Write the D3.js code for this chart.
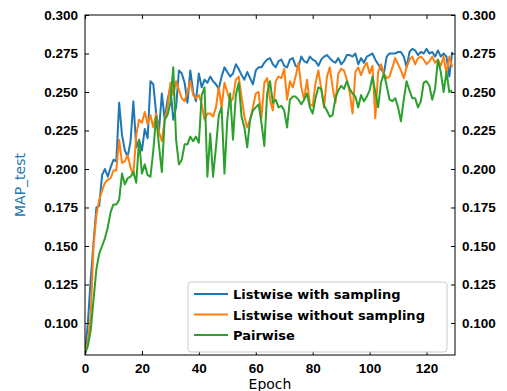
<!DOCTYPE html>
<html>
<head>
<meta charset="utf-8">
<script src="https://cdn.jsdelivr.net/npm/d3@7"></script>
<style>
  body { margin: 0; background: #fff; }
  svg { font-family: "DejaVu Sans", sans-serif; }
  .tick text { font-weight: bold; font-size: 13.5px; fill: #000; }
</style>
</head>
<body>
<div id="chart"></div>
<script>
// series values, one per epoch (0..129)
var listwiseSampling = [
  0.080, 0.100, 0.128, 0.152, 0.175, 0.176, 0.196, 0.200, 0.195, 0.201,
  0.206, 0.205, 0.243, 0.222, 0.212, 0.208, 0.218, 0.244, 0.214, 0.219,
  0.212, 0.226, 0.220, 0.257, 0.255, 0.236, 0.225, 0.249, 0.232, 0.245,
  0.253, 0.232, 0.240, 0.264, 0.262, 0.256, 0.243, 0.264, 0.250, 0.244,
  0.262, 0.253, 0.258, 0.256, 0.260, 0.257, 0.255, 0.252, 0.260, 0.266,
  0.263, 0.260, 0.262, 0.268, 0.265, 0.261, 0.258, 0.263, 0.259, 0.255,
  0.264, 0.266, 0.266, 0.269, 0.271, 0.272, 0.268, 0.266, 0.270, 0.271,
  0.267, 0.266, 0.271, 0.272, 0.267, 0.266, 0.273, 0.270, 0.269, 0.273,
  0.271, 0.270, 0.267, 0.271, 0.273, 0.274, 0.272, 0.270, 0.269, 0.272,
  0.268, 0.270, 0.274, 0.274, 0.273, 0.275, 0.268, 0.272, 0.269, 0.273,
  0.274, 0.275, 0.271, 0.268, 0.265, 0.262, 0.273, 0.275, 0.275, 0.275,
  0.276, 0.276, 0.273, 0.266, 0.276, 0.278, 0.277, 0.274, 0.276, 0.275,
  0.278, 0.275, 0.276, 0.273, 0.277, 0.273, 0.275, 0.273, 0.260, 0.276
];
var listwiseNoSampling = [
  0.080, 0.088, 0.105, 0.150, 0.170, 0.180, 0.186, 0.191, 0.193, 0.194,
  0.199, 0.199, 0.219, 0.204, 0.205, 0.209, 0.201, 0.196, 0.222, 0.232,
  0.230, 0.237, 0.229, 0.235, 0.227, 0.236, 0.224, 0.218, 0.232, 0.240,
  0.256, 0.248, 0.257, 0.251, 0.246, 0.244, 0.250, 0.257, 0.248, 0.246,
  0.248, 0.242, 0.232, 0.236, 0.236, 0.234, 0.240, 0.253, 0.240, 0.256,
  0.250, 0.243, 0.246, 0.258, 0.260, 0.247, 0.234, 0.227, 0.232, 0.240,
  0.249, 0.250, 0.233, 0.256, 0.259, 0.245, 0.238, 0.257, 0.260, 0.259,
  0.265, 0.245, 0.257, 0.253, 0.260, 0.269, 0.253, 0.245, 0.258, 0.242,
  0.241, 0.256, 0.264, 0.252, 0.240, 0.260, 0.266, 0.253, 0.243, 0.262,
  0.265, 0.264, 0.258, 0.250, 0.236, 0.263, 0.266, 0.261, 0.266, 0.269,
  0.262, 0.267, 0.233, 0.263, 0.268, 0.262, 0.259, 0.260, 0.266, 0.272,
  0.268, 0.264, 0.259, 0.266, 0.271, 0.273, 0.268, 0.272, 0.273, 0.271,
  0.268, 0.270, 0.273, 0.269, 0.271, 0.267, 0.273, 0.262, 0.273, 0.266
];
var pairwise = [
  0.080, 0.085, 0.095, 0.115, 0.135, 0.145, 0.150, 0.155, 0.162, 0.172,
  0.177, 0.177, 0.180, 0.197, 0.190, 0.194, 0.195, 0.198, 0.191, 0.219,
  0.197, 0.203, 0.196, 0.195, 0.212, 0.234, 0.215, 0.198, 0.232, 0.235,
  0.243, 0.266, 0.219, 0.203, 0.206, 0.216, 0.216, 0.221, 0.218, 0.221,
  0.217, 0.248, 0.253, 0.195, 0.223, 0.195, 0.214, 0.235, 0.240, 0.197,
  0.232, 0.249, 0.219, 0.248, 0.256, 0.234, 0.227, 0.214, 0.232, 0.238,
  0.240, 0.242, 0.230, 0.215, 0.249, 0.257, 0.243, 0.245, 0.240, 0.241,
  0.238, 0.227, 0.245, 0.247, 0.247, 0.245, 0.242, 0.245, 0.249, 0.240,
  0.236, 0.246, 0.253, 0.252, 0.241, 0.238, 0.234, 0.235, 0.246, 0.251,
  0.254, 0.252, 0.257, 0.252, 0.249, 0.247, 0.240, 0.248, 0.244, 0.247,
  0.251, 0.260, 0.250, 0.240, 0.256, 0.262, 0.254, 0.245, 0.244, 0.246,
  0.240, 0.231, 0.245, 0.257, 0.251, 0.246, 0.246, 0.240, 0.244, 0.256,
  0.257, 0.254, 0.245, 0.252, 0.271, 0.263, 0.250, 0.263, 0.250, 0.251
];

var seriesNames = ["Listwise with sampling", "Listwise without sampling", "Pairwise"];
var seriesColors = ["#1f77b4", "#ff7f0e", "#2ca02c"];
var xTicks = [0, 20, 40, 60, 80, 100, 120];
var yTicks = [0.100, 0.125, 0.150, 0.175, 0.200, 0.225, 0.250, 0.275, 0.300];

var W = 507, H = 391;
var margin = {top: 15, right: 52, bottom: 36, left: 85};
var w = W - margin.left - margin.right;
var h = H - margin.top - margin.bottom;

var svg = d3.select("#chart").append("svg")
    .attr("width", W).attr("height", H);
var g = svg.append("g")
    .attr("transform", "translate(" + margin.left + "," + margin.top + ")");

var x = d3.scaleLinear().domain([0, 130]).range([0, w]);
var y = d3.scaleLinear().domain([0.0792, 0.300]).range([h, 0]);

svg.append("defs").append("clipPath").attr("id", "clip")
  .append("rect").attr("width", w).attr("height", h);

var allSeries = [listwiseSampling, listwiseNoSampling, pairwise];
var line = d3.line()
    .x(function(d, i) { return x(i); })
    .y(function(d) { return y(d); });

var plot = g.append("g").attr("clip-path", "url(#clip)");
allSeries.forEach(function(s, k) {
  plot.append("path")
    .attr("d", line(s))
    .attr("fill", "none")
    .attr("stroke", seriesColors[k])
    .attr("stroke-width", 2)
    .attr("stroke-linejoin", "round");
});

// axes, ticks pointing inward
var fmt = d3.format(".3f");
g.append("g").attr("transform", "translate(0," + h + ")")
  .call(d3.axisBottom(x).tickValues(xTicks).tickSizeInner(-4).tickSizeOuter(0).tickPadding(8))
  .call(function(a) { a.select(".domain").remove(); });
g.append("g")
  .call(d3.axisTop(x).tickValues(xTicks).tickSizeInner(-4).tickSizeOuter(0).tickFormat(""))
  .call(function(a) { a.select(".domain").remove(); });
g.append("g")
  .call(d3.axisLeft(y).tickValues(yTicks).tickFormat(fmt).tickSizeInner(-4).tickSizeOuter(0).tickPadding(7))
  .call(function(a) { a.select(".domain").remove(); });
g.append("g").attr("transform", "translate(" + w + ",0)")
  .call(d3.axisRight(y).tickValues(yTicks).tickFormat(fmt).tickSizeInner(-4).tickSizeOuter(0).tickPadding(7))
  .call(function(a) { a.select(".domain").remove(); });

g.append("rect")
  .attr("width", w).attr("height", h)
  .attr("fill", "none").attr("stroke", "#000").attr("stroke-width", 1);

// axis labels
svg.append("text")
  .attr("transform", "translate(25," + (margin.top + h / 2) + ") rotate(-90)")
  .attr("text-anchor", "middle")
  .attr("font-size", 14)
  .attr("fill", "#1f77b4")
  .text("MAP_test");
svg.append("text")
  .attr("x", margin.left + w / 2)
  .attr("y", 389)
  .attr("text-anchor", "middle")
  .attr("font-size", 14)
  .text("Epoch");

// legend
var lg = g.append("g").attr("transform", "translate(103,267)");
lg.append("rect")
  .attr("width", 259).attr("height", 70).attr("rx", 3)
  .attr("fill", "#fff").attr("fill-opacity", 0.8)
  .attr("stroke", "#ccc");
seriesNames.forEach(function(name, k) {
  var ry = 12 + k * 20.5;
  lg.append("line")
    .attr("x1", 6).attr("x2", 40).attr("y1", ry).attr("y2", ry)
    .attr("stroke", seriesColors[k]).attr("stroke-width", 2);
  lg.append("text")
    .attr("x", 45).attr("y", ry + 5)
    .attr("font-size", 13).attr("font-weight", "bold")
    .text(name);
});
</script>
</body>
</html>
